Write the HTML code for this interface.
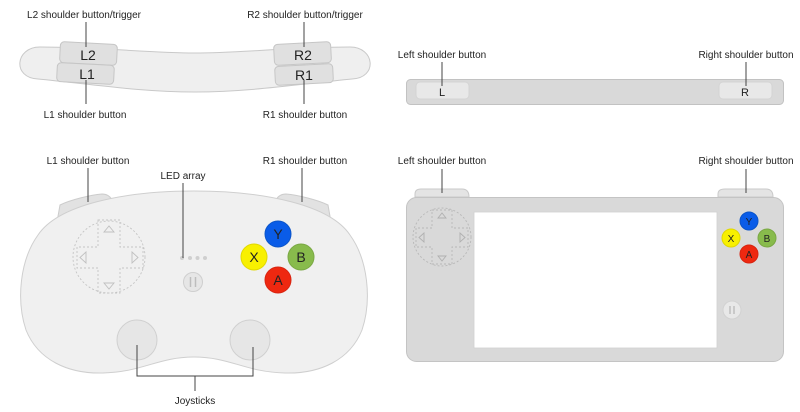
<!DOCTYPE html>
<html><head><meta charset="utf-8"><style>
html,body{margin:0;padding:0;background:#fff;}
svg{display:block;}
text{font-family:"Liberation Sans",Arial,sans-serif;fill:#222;}
</style></head><body>
<svg width="800" height="412" viewBox="0 0 800 412" xmlns="http://www.w3.org/2000/svg">
<!-- ===== Top-left: shoulder band ===== -->
<path d="M40 47 C100 47 150 53 195 53 C240 53 290 47 350 47 C375 47 378 78 352 79 C300 84 250 92 195 92 C140 92 90 84 38 79 C12 78 15 47 40 47 Z" fill="#efefef" stroke="#c9c9c9" stroke-width="1"/>
<g transform="rotate(3 88 53)"><rect x="60" y="43" width="57" height="21" rx="4" fill="#e0e0e0" stroke="#c6c6c6"/></g>
<g transform="rotate(3 86 73)"><rect x="57" y="64" width="57" height="19" rx="4" fill="#e0e0e0" stroke="#c6c6c6"/></g>
<g transform="rotate(-3 303 53)"><rect x="274" y="43" width="57" height="21" rx="4" fill="#e0e0e0" stroke="#c6c6c6"/></g>
<g transform="rotate(-3 304 74)"><rect x="275" y="65" width="58" height="19" rx="4" fill="#e0e0e0" stroke="#c6c6c6"/></g>
<text x="88" y="60" font-size="14" text-anchor="middle" fill="#333">L2</text>
<text x="87" y="79" font-size="14" text-anchor="middle" fill="#333">L1</text>
<text x="303" y="60" font-size="14" text-anchor="middle" fill="#333">R2</text>
<text x="304" y="80" font-size="14" text-anchor="middle" fill="#333">R1</text>
<g stroke="#444" stroke-width="1">
<line x1="86" y1="22" x2="86" y2="47"/>
<line x1="86" y1="80" x2="86" y2="104"/>
<line x1="304" y1="22" x2="304" y2="47"/>
<line x1="304" y1="80" x2="304" y2="104"/>
</g>
<text x="84" y="18" font-size="10" text-anchor="middle">L2 shoulder button/trigger</text>
<text x="85" y="118" font-size="10" text-anchor="middle">L1 shoulder button</text>
<text x="305" y="18" font-size="10" text-anchor="middle">R2 shoulder button/trigger</text>
<text x="305" y="118" font-size="10" text-anchor="middle">R1 shoulder button</text>

<!-- ===== Top-right: bar ===== -->
<rect x="406.5" y="79.5" width="377" height="25" rx="4" fill="#d9d9d9" stroke="#c2c2c2"/>
<rect x="416" y="82" width="53" height="17" rx="4" fill="#e8e8e8" stroke="#d4d4d4"/>
<rect x="719" y="82" width="53" height="17" rx="4" fill="#e8e8e8" stroke="#d4d4d4"/>
<text x="442" y="96" font-size="11" text-anchor="middle">L</text>
<text x="745" y="96" font-size="11" text-anchor="middle">R</text>
<g stroke="#444"><line x1="442" y1="62" x2="442" y2="86"/><line x1="746" y1="62" x2="746" y2="86"/></g>
<text x="442" y="58" font-size="10" text-anchor="middle">Left shoulder button</text>
<text x="746" y="58" font-size="10" text-anchor="middle">Right shoulder button</text>

<!-- ===== Bottom-left: gamepad ===== -->
<path d="M57 222 L60 205 C70 200 90 195 102 194 C107 194 110 196 112 200 L112 225 Z" fill="#e2e2e2" stroke="#cccccc"/>
<path d="M331 222 L328 205 C318 200 298 195 286 194 C281 194 278 196 276 200 L276 225 Z" fill="#e2e2e2" stroke="#cccccc"/>
<path d="M194 191 C265 191 330 205 350 235 C368 260 372 300 362 330 C350 360 320 374 285 373 C245 372 230 357 194 357 C158 357 143 372 103 373 C68 374 38 360 26 330 C16 300 20 260 38 235 C58 205 123 191 194 191 Z" fill="#f0f0f0" stroke="#cfcfcf"/>
<!-- dpad -->
<g fill="none" stroke="#c4c4c4" stroke-dasharray="2 2" stroke-width="0.9">
<circle cx="109" cy="257" r="36"/>
<path d="M98 220 H120 V247 H143 V268 H120 V293 H98 V268 H77 V247 H98 Z"/>
</g>
<g fill="none" stroke="#c0c0c0" stroke-width="0.9">
<path d="M104 232 L109 226 L114 232 Z"/>
<path d="M104 283 L109 289 L114 283 Z"/>
<path d="M86 252 L80 257.5 L86 263 Z"/>
<path d="M132 252 L138 257.5 L132 263 Z"/>
</g>
<!-- LEDs -->
<g fill="#cfcfcf"><circle cx="182" cy="258" r="2"/><circle cx="190" cy="258" r="2"/><circle cx="197.5" cy="258" r="2"/><circle cx="205" cy="258" r="2"/></g>
<!-- pause -->
<circle cx="193" cy="282" r="9.5" fill="#e6e6e6" stroke="#cfcfcf"/>
<g stroke="#bdbdbd" stroke-width="1.5"><line x1="190.5" y1="277" x2="190.5" y2="287"/><line x1="195.5" y1="277" x2="195.5" y2="287"/></g>
<!-- face buttons -->
<circle cx="278" cy="234" r="13" fill="#0a5ce8" stroke="#0c55c8"/>
<circle cx="254" cy="257" r="13" fill="#f8f000" stroke="#e0d800"/>
<circle cx="301" cy="257" r="13" fill="#88bb4c" stroke="#7aa844"/>
<circle cx="278" cy="280" r="13" fill="#ee2810" stroke="#d82410"/>
<text x="278" y="239" font-size="14" text-anchor="middle">Y</text>
<text x="254" y="262" font-size="14" text-anchor="middle">X</text>
<text x="301" y="262" font-size="14" text-anchor="middle">B</text>
<text x="278" y="285" font-size="14" text-anchor="middle">A</text>
<!-- joysticks -->
<circle cx="137" cy="340" r="20" fill="#e6e6e6" stroke="#d0d0d0"/>
<circle cx="250" cy="340" r="20" fill="#e6e6e6" stroke="#d0d0d0"/>
<g stroke="#444" fill="none" stroke-width="1">
<path d="M137 345 V376 H253 V347"/>
<line x1="195" y1="376" x2="195" y2="391"/>
<line x1="88" y1="168" x2="88" y2="202"/>
<line x1="302" y1="168" x2="302" y2="202"/>
<line x1="183" y1="183" x2="183" y2="258"/>
</g>
<text x="88" y="164" font-size="10" text-anchor="middle">L1 shoulder button</text>
<text x="305" y="164" font-size="10" text-anchor="middle">R1 shoulder button</text>
<text x="183" y="179" font-size="10" text-anchor="middle">LED array</text>
<text x="195" y="404" font-size="10" text-anchor="middle">Joysticks</text>

<!-- ===== Bottom-right: handheld ===== -->
<path d="M415 197 V194 Q415 189 421 189 H462 Q469 189 469 197 Z" fill="#e4e4e4" stroke="#cacaca"/>
<path d="M718 197 V194 Q718 189 725 189 H766 Q773 189 773 197 Z" fill="#e4e4e4" stroke="#cacaca"/>
<rect x="406.5" y="197.5" width="377" height="164" rx="10" fill="#d9d9d9" stroke="#c4c4c4"/>
<rect x="474" y="212" width="243" height="136" fill="#ffffff" stroke="#d0d0d0" stroke-width="0.8"/>
<g fill="none" stroke="#b8b8b8" stroke-dasharray="2 2" stroke-width="0.9">
<circle cx="442" cy="237" r="29"/>
<path d="M432 210 H452 V228 H468 V247 H452 V264 H432 V247 H416 V228 H432 Z"/>
</g>
<g fill="none" stroke="#b0b0b0" stroke-width="0.9">
<path d="M438 218 L442 213 L446 218 Z"/>
<path d="M438 256 L442 261 L446 256 Z"/>
<path d="M424 233 L419 237.5 L424 242 Z"/>
<path d="M460 233 L465 237.5 L460 242 Z"/>
</g>
<circle cx="749" cy="221" r="9" fill="#0a5ce8" stroke="#0c55c8"/>
<circle cx="731" cy="238" r="9" fill="#f8f000" stroke="#e0d800"/>
<circle cx="767" cy="238" r="9" fill="#88bb4c" stroke="#7aa844"/>
<circle cx="749" cy="254" r="9" fill="#ee2810" stroke="#d82410"/>
<text x="749" y="225" font-size="10" text-anchor="middle">Y</text>
<text x="731" y="242" font-size="10" text-anchor="middle">X</text>
<text x="767" y="242" font-size="10" text-anchor="middle">B</text>
<text x="749" y="258" font-size="10" text-anchor="middle">A</text>
<circle cx="732" cy="310" r="9" fill="#e8e8e8" stroke="#d2d2d2"/>
<g stroke="#b8b8b8" stroke-width="1.3"><line x1="730" y1="306" x2="730" y2="314"/><line x1="734" y1="306" x2="734" y2="314"/></g>
<g stroke="#444"><line x1="442" y1="169" x2="442" y2="193"/><line x1="746" y1="169" x2="746" y2="193"/></g>
<text x="442" y="164" font-size="10" text-anchor="middle">Left shoulder button</text>
<text x="746" y="164" font-size="10" text-anchor="middle">Right shoulder button</text>
</svg>
</body></html>
